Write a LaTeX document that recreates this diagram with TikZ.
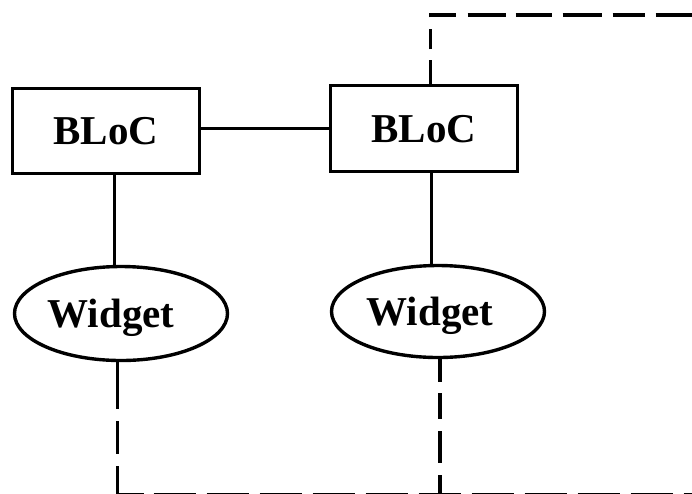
\documentclass[tikz,border=0pt]{standalone}
\usepackage{fontspec}
\setmainfont{Liberation Serif}
\usetikzlibrary{shapes.geometric}
\begin{document}
\begin{tikzpicture}[x=1pt,y=-1pt,line width=3.4pt,
  bigfont/.style={font=\fontsize{41}{48}\selectfont\bfseries},
  blocbox/.style={draw,rectangle,minimum width=187pt,minimum height=85pt,inner sep=0pt,text depth=0pt,bigfont},
  widgetoval/.style={draw,ellipse,minimum width=213pt,minimum height=94pt,inner sep=0pt,text depth=0pt,bigfont},
  topdash/.style={dash pattern=on 23.5pt off 11pt on 20pt off 12pt on 27.5pt off 12pt on 38pt off 10pt on 36pt off 11pt on 39pt off 11pt on 32pt off 11pt on 37pt off 11pt},
  leftdash/.style={dash pattern=on 47pt off 12pt on 33pt off 12pt on 40pt off 0pt},
  rightdash/.style={dash pattern=on 23pt off 11pt on 26pt off 12pt on 32pt off 12pt on 30pt off 0pt},
  bottomdash/.style={line width=3pt,dash pattern=on 26pt off 10pt on 42pt off 11pt on 42pt off 11pt on 42pt off 11pt on 42pt off 11pt on 42pt off 11pt on 42pt off 11pt on 42pt off 11pt on 42pt off 11pt on 42pt off 11pt on 42pt off 11pt}]
\useasboundingbox (0,0) rectangle (692,493);

\node[blocbox] (b1) at (106,131) {BLoC};
\node[blocbox,minimum height=86pt] (b2) at (424,128.5) {BLoC};
\node[widgetoval] (e1) at (121,313.5) {Widget\kern20pt};
\node[widgetoval,minimum height=92pt] (e2) at (438,311.5) {Widget\kern16pt};

\coordinate (x1) at (114.5,0);
\coordinate (x2) at (431.5,0);
\coordinate (tc) at (430.5,15);
\coordinate (tr) at (692,15);
\coordinate (bl) at (117.5,494.2);
\coordinate (br) at (692,494.2);
\coordinate (x4) at (440,0);

% solid connectors
\draw (b2.west) -- (b2.west -| b1.east);
\draw (b1.south -| x1) -- (e1.north -| x1);
\draw (b2.south -| x2) -- (e2.north -| x2);

% dashed connectors
\draw[topdash,line join=miter] (b2.north -| tc) -- (tc) -- (tr);
\draw[leftdash] (e1.south -| bl) -- (bl);
\draw[bottomdash] (bl) -- (br);
\draw[rightdash] (e2.south -| x4) -- (x4 |- bl);
\end{tikzpicture}
\end{document}
